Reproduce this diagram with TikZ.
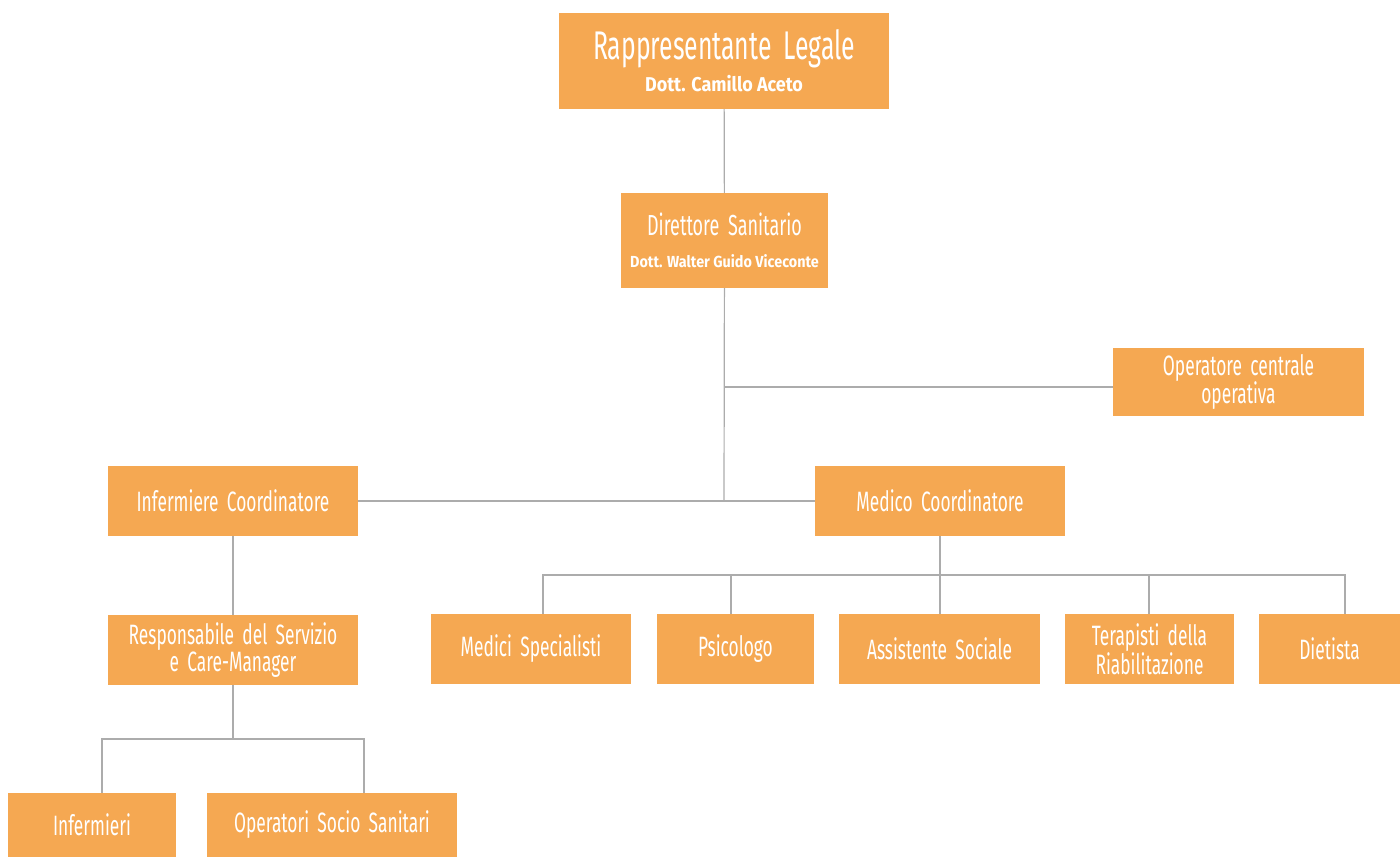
\documentclass[tikz,border=0pt]{standalone}
\usepackage{fontspec}
\usetikzlibrary{positioning}
\newfontfamily\handfont[FakeStretch=0.62, WordSpace=1.8]{Fira Sans}
\newfontfamily\namefont[FakeStretch=0.9]{Fira Sans}
\newcommand{\role}[4][]{\node (#2) [role, #1] at (#3) {#4};}
\newcommand{\who}[2]{{\handfont\fontsize{#1}{#1}\selectfont #2}}
\newcommand{\doc}[2]{{\namefont\bfseries\fontsize{#1}{#1}\selectfont #2}}
\tikzstyle{role} = [fill=box, text=white, align=center, inner sep=0pt, minimum width=250pt, minimum height=70pt, font=\handfont\fontsize{28}{27}\selectfont]
\tikzstyle{low} = [minimum height=64pt]
\tikzstyle{link} = [draw=wire, line width=1.2pt]
\definecolor{box}{RGB}{245,168,82}
\definecolor{wire}{RGB}{172,172,172}

\begin{document}
\begin{tikzpicture}[x=1pt, y=-1pt]
	\useasboundingbox (0,0) rectangle (1400,857);

	\role[minimum width=330pt, minimum height=96pt]{legale}{724,61}{\who{40}{Rappresentante Legale}\\[5pt]\doc{20}{Dott. Camillo Aceto}}
	\role[minimum width=207pt, minimum height=95pt]{direttore}{724.5,240.5}{\who{29}{Direttore Sanitario}\\[5pt]\doc{16}{Dott. Walter Guido Viceconte}}
	\role[minimum width=251pt, minimum height=68pt]{centrale}{1238.5,382}{Operatore centrale\\operativa}

	\role{infcoord}{233,501}{Infermiere Coordinatore}
	\role{medcoord}{940,501}{Medico Coordinatore}
	\role{resp}{233,650}{Responsabile del Servizio\\e Care-Manager}

	\role[minimum width=200pt]{medici}{531,649}{Medici Specialisti}
	\role[minimum width=157pt]{psico}{735.5,649}{Psicologo}
	\role[minimum width=201pt]{assist}{939.5,649}{Assistente Sociale}
	\role[minimum width=169pt]{terap}{1149.5,649}{Terapisti della\\Riabilitazione}
	\role[minimum width=141pt]{dietista}{1329.5,649}{Dietista}

	\role[low, minimum width=168pt]{infermieri}{92,825}{Infermieri}
	\role[low]{oss}{332,825}{Operatori Socio Sanitari}

	% connectors
	\coordinate (hub) at (724,500);
	\coordinate (opbranch) at (724,387);
	\coordinate (lowbus) at (233,739);
	\coordinate (medbus) at (940,575);
	\draw[link] (legale) -- (direttore);
	\draw[link] (direttore) -- (hub);
	\draw[link] (opbranch) -- (opbranch -| centrale.west);
	\draw[link] (infcoord) -- (medcoord);
	\draw[link] (infcoord) -- (resp);
	\draw[link] (resp) -- (lowbus);
	\draw[link] (lowbus) -| ([xshift=10pt]infermieri.north);
	\draw[link] (lowbus) -| ([xshift=32pt]oss.north);
	\draw[link] (medcoord) -- (medbus);
	\foreach \n/\dx in {medici/12, psico/-4.5, assist/0.5, terap/-0.5, dietista/15.5}
		\draw[link] (medbus) -| ([xshift=\dx pt]\n.north);
\end{tikzpicture}
\end{document}
